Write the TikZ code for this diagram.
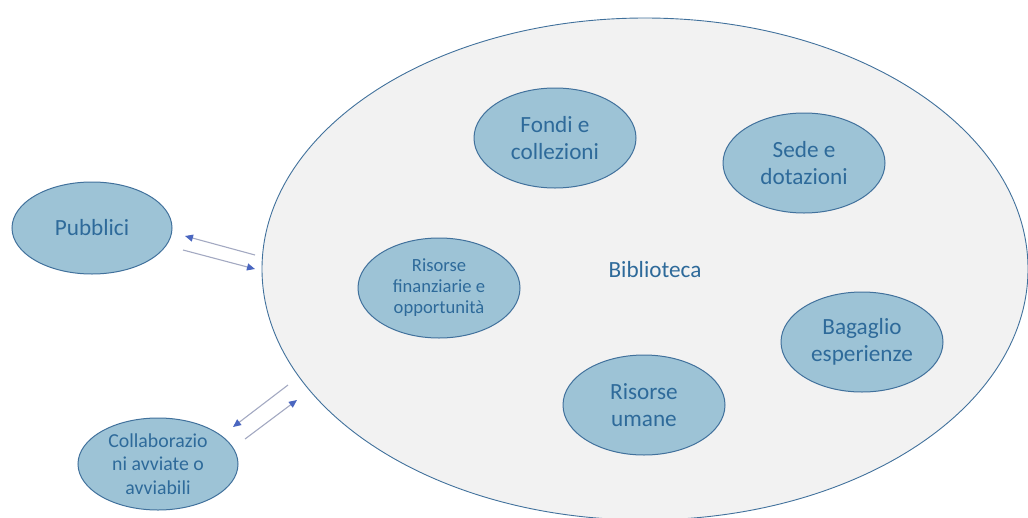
\documentclass[tikz,border=0pt]{standalone}
\usepackage{fontspec}
\setmainfont{Carlito}
\usetikzlibrary{shapes.geometric,arrows.meta}
\definecolor{bigfill}{HTML}{F2F2F2}
\definecolor{edge}{HTML}{41719C}
\definecolor{smallfill}{HTML}{9DC3D6}
\definecolor{txt}{HTML}{2E6A9A}
\definecolor{arrline}{HTML}{A3A9C2}
\definecolor{arrhead}{HTML}{4A66C0}
\tikzset{
  big/.style={ellipse, draw=edge, fill=bigfill, line width=0.9pt, minimum width=766pt, minimum height=502pt, inner sep=0pt},
  bubble/.style={ellipse, draw=edge, fill=smallfill, line width=1pt, minimum width=162pt, minimum height=100pt, inner sep=0pt, align=center, text=txt},
  outer/.style={bubble, minimum width=160pt, minimum height=92pt},
  fnormal/.style={font=\fontsize{23.2}{26.5}\selectfont},
  fsmall/.style={font=\fontsize{18.6}{21}\selectfont},
  fmid/.style={font=\fontsize{19.8}{23.5}\selectfont},
  rel/.style={draw=arrline, line width=1.1pt, -{Triangle[length=8pt,width=7pt,color=arrhead,fill=arrhead]}}
}
\begin{document}
\begin{tikzpicture}[x=1pt,y=-1pt]
\useasboundingbox (0,0) rectangle (1028,517);
\clip (0,0) rectangle (1028,517);
\node[big] (bib) at (645,269) {};
\node[text=txt, fnormal] (biblabel) at (655,270) {Biblioteca};
\node[bubble, fnormal] (fondi) at (555,138) {Fondi e\\collezioni};
\node[bubble, fnormal] (sede) at (804,163) {Sede e\\dotazioni};
\node[bubble, fsmall] (fin) at (439,288) {Risorse\\finanziarie e\\opportunità};
\node[bubble, fnormal] (bag) at (862,342) {Bagaglio\\esperienze};
\node[bubble, fnormal] (umane) at (644,405) {Risorse\\umane};
\node[outer, fnormal] (pub) at (92,228) {Pubblici};
\node[outer, fmid] (coll) at (158,464) {Collaborazio\\ni avviate o\\avviabili};
\coordinate (a1s) at (255,255);
\coordinate (a1e) at (185,236);
\coordinate (a2s) at (183,250);
\coordinate (a2e) at (255,269);
\coordinate (a3s) at (288,385);
\coordinate (a3e) at (233,427);
\coordinate (a4s) at (245,439);
\coordinate (a4e) at (297,400);
\draw[rel] (a1s) -- (a1e);
\draw[rel] (a2s) -- (a2e);
\draw[rel] (a3s) -- (a3e);
\draw[rel] (a4s) -- (a4e);
\end{tikzpicture}
\end{document}
